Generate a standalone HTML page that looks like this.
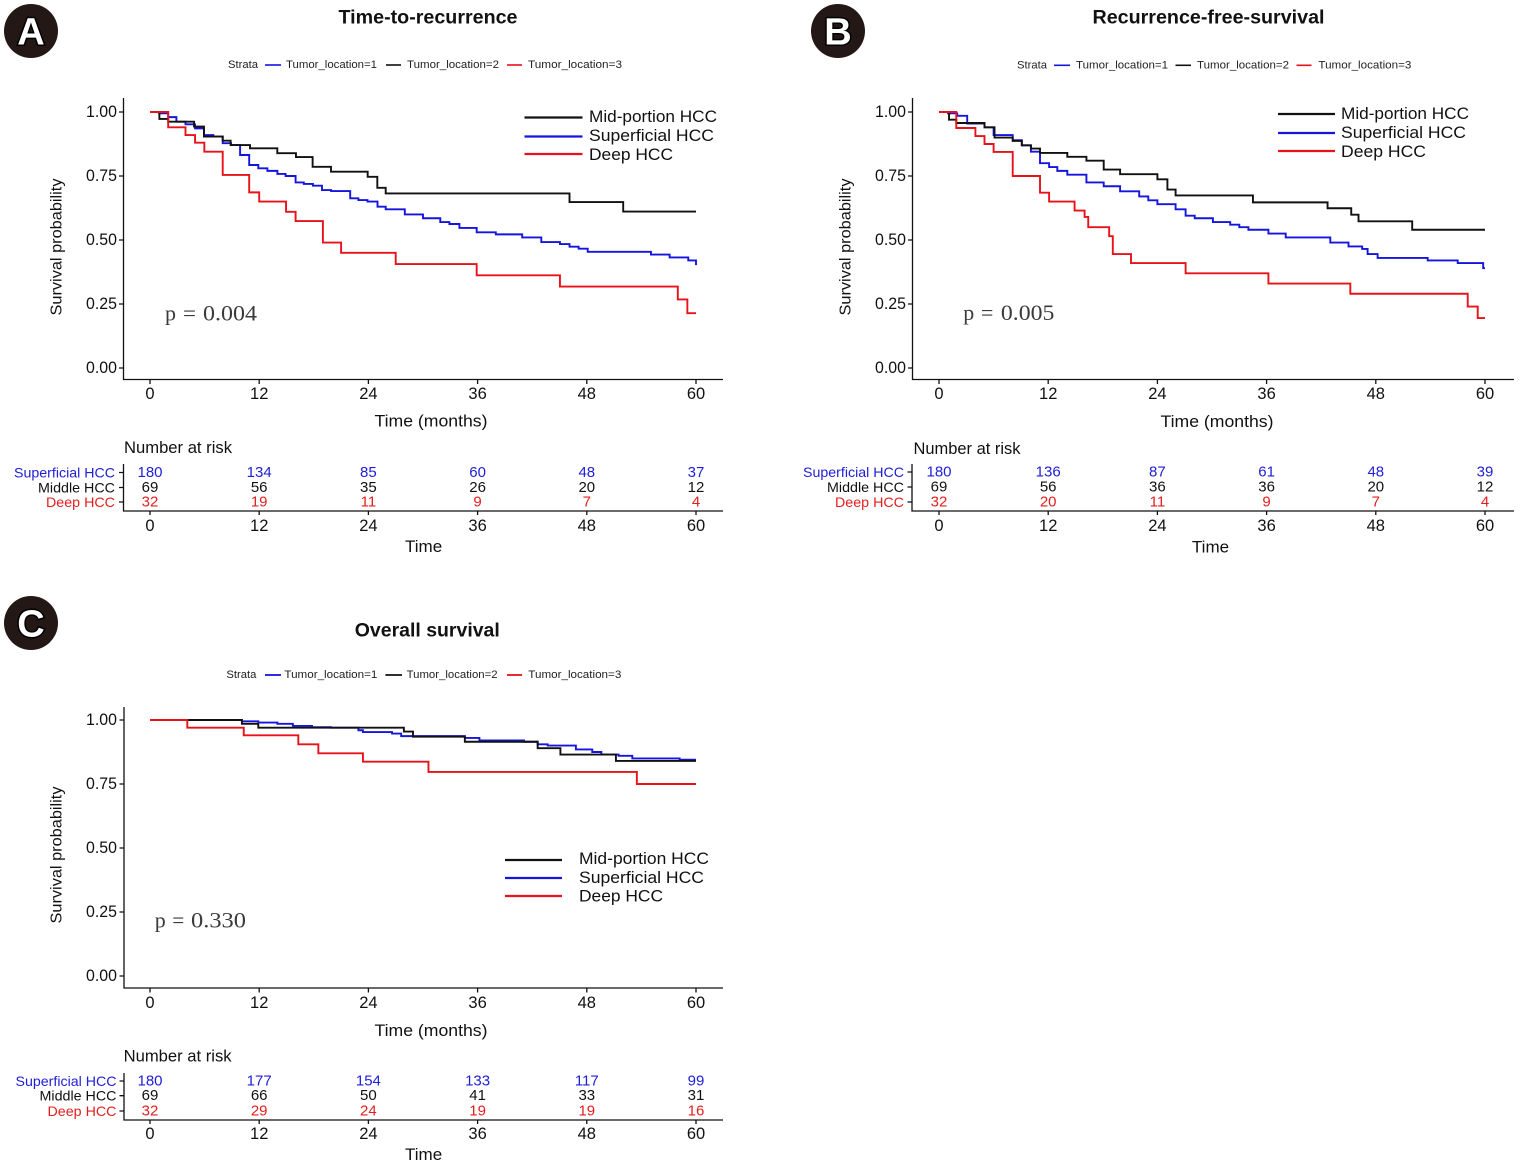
<!DOCTYPE html>
<html><head><meta charset="utf-8"><style>
html,body{margin:0;padding:0;background:#fff}
svg{display:block}
text{font-family:"Liberation Sans",Arial,sans-serif;dominant-baseline:central;fill:#111}
.m{text-anchor:middle}.e{text-anchor:end}
.st{font-size:11px;fill:#222}
.tk{font-size:16.5px}
.ttl{font-size:19px;font-weight:bold;text-anchor:middle}
.lg{font-size:17px}
.rk{font-size:15px;text-anchor:middle}
.rl{font-size:14px;text-anchor:end}
.pv{font-family:"Liberation Serif","DejaVu Serif",serif;font-size:22px;fill:#3a3a3a;dominant-baseline:auto}
.lab{font-family:"Liberation Sans",Arial,sans-serif;font-weight:bold;font-size:38px;fill:#fff;stroke:#000;stroke-width:3px;paint-order:stroke;text-anchor:middle}
.ax{stroke:#111;stroke-width:1.3;fill:none}
.cv{fill:none;stroke-width:1.9;vector-effect:non-scaling-stroke}
.bl{stroke:#1515e0}.bk{stroke:#111}.rd{stroke:#e8121a}
.tb{fill:#2020d8}.tr{fill:#e41e1e}
</style></head><body>
<svg width="1520" height="1164" viewBox="0 0 1520 1164" xmlns="http://www.w3.org/2000/svg">

<!-- ================= PANEL A ================= -->
<g>
<circle cx="31" cy="31" r="27" fill="#231815"/>
<text class="lab" x="31" y="32.5">A</text>
<text class="ttl" x="428" y="18" textLength="179" lengthAdjust="spacingAndGlyphs">Time-to-recurrence</text>
<text class="st" x="228" y="65" textLength="30" lengthAdjust="spacingAndGlyphs">Strata</text>
<line x1="265" x2="281" y1="65" y2="65" stroke="#1515e0" stroke-width="1.6"/>
<text class="st" x="286" y="65" textLength="91" lengthAdjust="spacingAndGlyphs">Tumor_location=1</text>
<line x1="386" x2="401" y1="65" y2="65" stroke="#111" stroke-width="1.6"/>
<text class="st" x="407" y="65" textLength="92" lengthAdjust="spacingAndGlyphs">Tumor_location=2</text>
<line x1="507" x2="522" y1="65" y2="65" stroke="#e8121a" stroke-width="1.6"/>
<text class="st" x="528" y="65" textLength="94" lengthAdjust="spacingAndGlyphs">Tumor_location=3</text>

<path class="ax" d="M123.5,98V379.5H723"/>
<path class="ax" d="M119,112H123.5M119,176H123.5M119,240H123.5M119,304H123.5M119,368H123.5"/>
<path class="ax" d="M150,379.5V384M259.2,379.5V384M368.4,379.5V384M477.6,379.5V384M586.8,379.5V384M696,379.5V384"/>
<text class="tk e" x="117" y="112" textLength="31" lengthAdjust="spacingAndGlyphs">1.00</text>
<text class="tk e" x="117" y="176" textLength="31" lengthAdjust="spacingAndGlyphs">0.75</text>
<text class="tk e" x="117" y="240" textLength="31" lengthAdjust="spacingAndGlyphs">0.50</text>
<text class="tk e" x="117" y="304" textLength="31" lengthAdjust="spacingAndGlyphs">0.25</text>
<text class="tk e" x="117" y="368" textLength="31" lengthAdjust="spacingAndGlyphs">0.00</text>
<text class="tk m" x="150" y="394">0</text>
<text class="tk m" x="259.2" y="394">12</text>
<text class="tk m" x="368.4" y="394">24</text>
<text class="tk m" x="477.6" y="394">36</text>
<text class="tk m" x="586.8" y="394">48</text>
<text class="tk m" x="696" y="394">60</text>
<text class="m" x="431" y="421" font-size="17" textLength="113" lengthAdjust="spacingAndGlyphs">Time (months)</text>
<text class="m" transform="translate(57,247) rotate(-90)" font-size="15.5" textLength="137" lengthAdjust="spacingAndGlyphs">Survival probability</text>

<g transform="translate(150,368) scale(9.1,-256)">
<path class="cv bl" d="M0,1H1V0.995H2V0.98H2.9V0.962H3.9V0.952H4.95V0.936H5.93V0.91H6.96V0.904H7.99V0.878H8.9V0.871H9.9V0.832H10.9V0.793H11.9V0.78H12.9V0.77H14V0.758H14.9V0.75H16V0.725H16.9V0.719H17.9V0.712H18.9V0.695H19.9V0.691H22V0.663H22.9V0.656H23.9V0.65H25V0.63H25.9V0.62H28V0.6H30V0.585H31.9V0.57H32.9V0.5625H34V0.547H35.9V0.53H38V0.522H40.9V0.51H43V0.492H45.05V0.484H46.1V0.474H47.1V0.466H48.1V0.454H55.05V0.443H57.1V0.432H59.15V0.42H60V0.402"/>
<path class="cv bk" d="M0,1H1.03V0.973H2V0.962H4.84V0.943H5.93V0.904H7.99V0.888H8.86V0.871H10.99V0.858H13.99V0.839H16.04V0.824H17.87V0.786H19.89V0.767H23.92V0.747H24.98V0.704H25.9V0.682H46.1V0.648H52V0.611H60"/>
<path class="cv rd" d="M0,1H2V0.94H3.9V0.91H4.95V0.88H5.97V0.845H7.99V0.754H10.9V0.686H12V0.65H14.95V0.61H16V0.574H19V0.49H21V0.45H27V0.406H35.9V0.362H45.05V0.318H58V0.268H59.05V0.214H60"/>
</g>

<line x1="524.5" x2="582.5" y1="117.5" y2="117.5" stroke="#111" stroke-width="2.2"/>
<line x1="524.5" x2="582.5" y1="136.5" y2="136.5" stroke="#1515e0" stroke-width="2.2"/>
<line x1="524.5" x2="582.5" y1="154" y2="154" stroke="#e8121a" stroke-width="2.2"/>
<text class="lg" x="589" y="116.5" textLength="128" lengthAdjust="spacingAndGlyphs">Mid-portion HCC</text>
<text class="lg" x="589" y="135.5" textLength="125" lengthAdjust="spacingAndGlyphs">Superficial HCC</text>
<text class="lg" x="589" y="154.3" textLength="84" lengthAdjust="spacingAndGlyphs">Deep HCC</text>

<text class="pv" x="165" y="320.5">p</text>
<text class="pv" x="183" y="320.5" textLength="13" lengthAdjust="spacingAndGlyphs">=</text>
<text class="pv" x="203" y="320.5" textLength="54" lengthAdjust="spacingAndGlyphs">0.004</text>

<!-- risk table -->
<text x="124" y="448" font-size="16.5" textLength="108" lengthAdjust="spacingAndGlyphs">Number at risk</text>
<path class="ax" d="M123.5,464V511H723"/>
<path class="ax" d="M119,472.5H123.5M119,487.5H123.5M119,502H123.5"/>
<path class="ax" d="M150,511V515M259.2,511V515M368.4,511V515M477.6,511V515M586.8,511V515M696,511V515"/>
<text class="rl tb" x="115" y="472.5" textLength="101" lengthAdjust="spacingAndGlyphs">Superficial HCC</text>
<text class="rl" x="115" y="487.5" textLength="77" lengthAdjust="spacingAndGlyphs">Middle HCC</text>
<text class="rl tr" x="115" y="502" textLength="69" lengthAdjust="spacingAndGlyphs">Deep HCC</text>
<g class="rk">
<text class="rk tb" x="150" y="472.5">180</text><text class="rk tb" x="259.2" y="472.5">134</text><text class="rk tb" x="368.4" y="472.5">85</text><text class="rk tb" x="477.6" y="472.5">60</text><text class="rk tb" x="586.8" y="472.5">48</text><text class="rk tb" x="696" y="472.5">37</text>
<text class="rk" x="150" y="487.5">69</text><text class="rk" x="259.2" y="487.5">56</text><text class="rk" x="368.4" y="487.5">35</text><text class="rk" x="477.6" y="487.5">26</text><text class="rk" x="586.8" y="487.5">20</text><text class="rk" x="696" y="487.5">12</text>
<text class="rk tr" x="150" y="502">32</text><text class="rk tr" x="259.2" y="502">19</text><text class="rk tr" x="368.4" y="502">11</text><text class="rk tr" x="477.6" y="502">9</text><text class="rk tr" x="586.8" y="502">7</text><text class="rk tr" x="696" y="502">4</text>
</g>
<text class="tk m" x="150" y="526">0</text>
<text class="tk m" x="259.2" y="526">12</text>
<text class="tk m" x="368.4" y="526">24</text>
<text class="tk m" x="477.6" y="526">36</text>
<text class="tk m" x="586.8" y="526">48</text>
<text class="tk m" x="696" y="526">60</text>
<text class="m" x="423.6" y="546.5" font-size="17">Time</text>
</g>

<!-- ================= PANEL B ================= -->
<g transform="translate(789,0)">
<circle cx="49" cy="31" r="27" fill="#231815"/>
<text class="lab" x="49" y="32.5">B</text>
<text class="ttl" x="419.5" y="18" textLength="232" lengthAdjust="spacingAndGlyphs">Recurrence-free-survival</text>
<text class="st" x="228" y="65.3" textLength="30" lengthAdjust="spacingAndGlyphs">Strata</text>
<line x1="265" x2="281" y1="65.3" y2="65.3" stroke="#1515e0" stroke-width="1.6"/>
<text class="st" x="287" y="65.3" textLength="92" lengthAdjust="spacingAndGlyphs">Tumor_location=1</text>
<line x1="386.5" x2="402" y1="65.3" y2="65.3" stroke="#111" stroke-width="1.6"/>
<text class="st" x="408" y="65.3" textLength="92" lengthAdjust="spacingAndGlyphs">Tumor_location=2</text>
<line x1="507.5" x2="522.5" y1="65.3" y2="65.3" stroke="#e8121a" stroke-width="1.6"/>
<text class="st" x="529.4" y="65.3" textLength="93" lengthAdjust="spacingAndGlyphs">Tumor_location=3</text>

<path class="ax" d="M123.5,98V379.5H725"/>
<path class="ax" d="M119,112H123.5M119,176H123.5M119,240H123.5M119,304H123.5M119,368H123.5"/>
<path class="ax" d="M150,379.5V384M259.2,379.5V384M368.4,379.5V384M477.6,379.5V384M586.8,379.5V384M696,379.5V384"/>
<text class="tk e" x="117" y="112" textLength="31" lengthAdjust="spacingAndGlyphs">1.00</text>
<text class="tk e" x="117" y="176" textLength="31" lengthAdjust="spacingAndGlyphs">0.75</text>
<text class="tk e" x="117" y="240" textLength="31" lengthAdjust="spacingAndGlyphs">0.50</text>
<text class="tk e" x="117" y="304" textLength="31" lengthAdjust="spacingAndGlyphs">0.25</text>
<text class="tk e" x="117" y="368" textLength="31" lengthAdjust="spacingAndGlyphs">0.00</text>
<text class="tk m" x="150" y="394">0</text>
<text class="tk m" x="259.2" y="394">12</text>
<text class="tk m" x="368.4" y="394">24</text>
<text class="tk m" x="477.6" y="394">36</text>
<text class="tk m" x="586.8" y="394">48</text>
<text class="tk m" x="696" y="394">60</text>
<text class="m" x="428" y="421.5" font-size="17" textLength="113" lengthAdjust="spacingAndGlyphs">Time (months)</text>
<text class="m" transform="translate(57,247) rotate(-90)" font-size="15.5" textLength="137" lengthAdjust="spacingAndGlyphs">Survival probability</text>

<g transform="translate(150,368) scale(9.1,-256)">
<path class="cv bl" d="M0,1H1V0.995H2V0.985H3.1V0.955H5V0.94H6V0.91H8.1V0.89H9.1V0.87H10.1V0.845H11.1V0.8H12.1V0.785H13V0.77H14.1V0.755H16.2V0.725H18.1V0.71H19.9V0.69H22V0.67H23V0.655H24V0.64H26V0.62H27.1V0.595H28.1V0.585H30.1V0.57H32V0.56H33V0.55H34V0.54H36.2V0.525H38.1V0.51H43V0.49H45V0.475H46.5V0.465H47.1V0.445H48.2V0.43H53.7V0.42H57V0.41H59.8V0.39H60"/>
<path class="cv bk" d="M0,1H1.1V0.97H1.9V0.957H5V0.94H6.1V0.9H8.1V0.887H9.1V0.87H10.1V0.857H11.1V0.84H14.1V0.825H16.2V0.81H18.1V0.775H19.9V0.757H24V0.737H25.1V0.697H26V0.674H34.5V0.647H42.7V0.624H45.3V0.599H46.1V0.573H52V0.54H60"/>
<path class="cv rd" d="M0,1H1.9V0.9375H4V0.906H5V0.875H6V0.844H8.1V0.75H11.1V0.685H12.1V0.65H14.9V0.615H16V0.59H16.4V0.55H18.7V0.515H19.1V0.445H21.1V0.41H27.1V0.37H36.2V0.33H45.2V0.29H58.1V0.24H59.2V0.195H60"/>
</g>

<line x1="489" x2="546" y1="114" y2="114" stroke="#111" stroke-width="2.2"/>
<line x1="489" x2="546" y1="133" y2="133" stroke="#1515e0" stroke-width="2.2"/>
<line x1="489" x2="546" y1="151" y2="151" stroke="#e8121a" stroke-width="2.2"/>
<text class="lg" x="552" y="113.3" textLength="128" lengthAdjust="spacingAndGlyphs">Mid-portion HCC</text>
<text class="lg" x="552" y="132.5" textLength="125" lengthAdjust="spacingAndGlyphs">Superficial HCC</text>
<text class="lg" x="552" y="151.5" textLength="85" lengthAdjust="spacingAndGlyphs">Deep HCC</text>

<text class="pv" x="174.2" y="320">p</text>
<text class="pv" x="191.9" y="320" textLength="12.5" lengthAdjust="spacingAndGlyphs">=</text>
<text class="pv" x="211.9" y="320" textLength="53.5" lengthAdjust="spacingAndGlyphs">0.005</text>

<text x="124.5" y="449" font-size="16.5" textLength="107" lengthAdjust="spacingAndGlyphs">Number at risk</text>
<path class="ax" d="M123,464V511H725"/>
<path class="ax" d="M118.5,472H123M118.5,487H123M118.5,502H123"/>
<path class="ax" d="M150,511V515M259.2,511V515M368.4,511V515M477.6,511V515M586.8,511V515M696,511V515"/>
<text class="rl tb" x="115" y="472" textLength="101" lengthAdjust="spacingAndGlyphs">Superficial HCC</text>
<text class="rl" x="115" y="487" textLength="77" lengthAdjust="spacingAndGlyphs">Middle HCC</text>
<text class="rl tr" x="115" y="502" textLength="69" lengthAdjust="spacingAndGlyphs">Deep HCC</text>
<text class="rk tb" x="150" y="472">180</text><text class="rk tb" x="259.2" y="472">136</text><text class="rk tb" x="368.4" y="472">87</text><text class="rk tb" x="477.6" y="472">61</text><text class="rk tb" x="586.8" y="472">48</text><text class="rk tb" x="696" y="472">39</text>
<text class="rk" x="150" y="487">69</text><text class="rk" x="259.2" y="487">56</text><text class="rk" x="368.4" y="487">36</text><text class="rk" x="477.6" y="487">36</text><text class="rk" x="586.8" y="487">20</text><text class="rk" x="696" y="487">12</text>
<text class="rk tr" x="150" y="502">32</text><text class="rk tr" x="259.2" y="502">20</text><text class="rk tr" x="368.4" y="502">11</text><text class="rk tr" x="477.6" y="502">9</text><text class="rk tr" x="586.8" y="502">7</text><text class="rk tr" x="696" y="502">4</text>
<text class="tk m" x="150" y="526">0</text>
<text class="tk m" x="259.2" y="526">12</text>
<text class="tk m" x="368.4" y="526">24</text>
<text class="tk m" x="477.6" y="526">36</text>
<text class="tk m" x="586.8" y="526">48</text>
<text class="tk m" x="696" y="526">60</text>
<text class="m" x="421.5" y="547" font-size="17">Time</text>
</g>

<!-- ================= PANEL C ================= -->
<g transform="translate(0,608)">
<circle cx="31" cy="15" r="27" fill="#231815"/>
<text class="lab" x="31" y="16.5">C</text>
<text class="ttl" x="427.3" y="23" textLength="145" lengthAdjust="spacingAndGlyphs">Overall survival</text>
<text class="st" x="226.4" y="67" textLength="30" lengthAdjust="spacingAndGlyphs">Strata</text>
<line x1="265" x2="281" y1="67" y2="67" stroke="#1515e0" stroke-width="1.8"/>
<text class="st" x="284.4" y="67" textLength="93" lengthAdjust="spacingAndGlyphs">Tumor_location=1</text>
<line x1="385.4" x2="402" y1="67" y2="67" stroke="#111" stroke-width="1.8"/>
<text class="st" x="406.6" y="67" textLength="91" lengthAdjust="spacingAndGlyphs">Tumor_location=2</text>
<line x1="507" x2="522" y1="67" y2="67" stroke="#e8121a" stroke-width="1.8"/>
<text class="st" x="528.3" y="67" textLength="93" lengthAdjust="spacingAndGlyphs">Tumor_location=3</text>

<path class="ax" d="M124,99V380H723"/>
<path class="ax" d="M119.5,112H124M119.5,176H124M119.5,240H124M119.5,304H124M119.5,368H124"/>
<path class="ax" d="M150,380V384.5M259.2,380V384.5M368.4,380V384.5M477.6,380V384.5M586.8,380V384.5M696,380V384.5"/>
<text class="tk e" x="117" y="112" textLength="31" lengthAdjust="spacingAndGlyphs">1.00</text>
<text class="tk e" x="117" y="176" textLength="31" lengthAdjust="spacingAndGlyphs">0.75</text>
<text class="tk e" x="117" y="240" textLength="31" lengthAdjust="spacingAndGlyphs">0.50</text>
<text class="tk e" x="117" y="304" textLength="31" lengthAdjust="spacingAndGlyphs">0.25</text>
<text class="tk e" x="117" y="368" textLength="31" lengthAdjust="spacingAndGlyphs">0.00</text>
<text class="tk m" x="150" y="395">0</text>
<text class="tk m" x="259.2" y="395">12</text>
<text class="tk m" x="368.4" y="395">24</text>
<text class="tk m" x="477.6" y="395">36</text>
<text class="tk m" x="586.8" y="395">48</text>
<text class="tk m" x="696" y="395">60</text>
<text class="m" x="431" y="422.5" font-size="17" textLength="113" lengthAdjust="spacingAndGlyphs">Time (months)</text>
<text class="m" transform="translate(57,247) rotate(-90)" font-size="15.5" textLength="137" lengthAdjust="spacingAndGlyphs">Survival probability</text>

<g transform="translate(150,368) scale(9.1,-256)">
<path class="cv bl" d="M0,1H10.1V0.995H11.9V0.99H14V0.985H15.7V0.977H17.8V0.972H19.9V0.97H22.9V0.96H23.4V0.953H26.6V0.947H27.6V0.937H34.6V0.93H36.2V0.92H41.1V0.915H42.6V0.905H43.7V0.9H46.8V0.885H48.6V0.875H49.6V0.865H51.5V0.86H53V0.85H58.2V0.845H60"/>
<path class="cv bk" d="M0,1H10.1V0.985H11.9V0.97H27.9V0.955H28.9V0.935H34.6V0.915H42.6V0.89H45.1V0.865H51.2V0.84H60"/>
<path class="cv rd" d="M0,1H4.1V0.97H10.3V0.94H16.3V0.905H18.5V0.87H23.4V0.837H30.6V0.797H53.5V0.75H60"/>
</g>

<line x1="505" x2="562" y1="252" y2="252" stroke="#111" stroke-width="2.2"/>
<line x1="505" x2="562" y1="270" y2="270" stroke="#1515e0" stroke-width="2.2"/>
<line x1="505" x2="562" y1="288" y2="288" stroke="#e8121a" stroke-width="2.2"/>
<text class="lg" x="579" y="250.3" textLength="130" lengthAdjust="spacingAndGlyphs">Mid-portion HCC</text>
<text class="lg" x="579" y="269.3" textLength="125" lengthAdjust="spacingAndGlyphs">Superficial HCC</text>
<text class="lg" x="579" y="288" textLength="84" lengthAdjust="spacingAndGlyphs">Deep HCC</text>

<text class="pv" x="154.7" y="319.3">p</text>
<text class="pv" x="172.2" y="319.3" textLength="12" lengthAdjust="spacingAndGlyphs">=</text>
<text class="pv" x="191" y="319.3" textLength="55" lengthAdjust="spacingAndGlyphs">0.330</text>

<text x="123.6" y="448.5" font-size="16.5" textLength="108" lengthAdjust="spacingAndGlyphs">Number at risk</text>
<path class="ax" d="M124,465V512H723"/>
<path class="ax" d="M119.5,473H124M119.5,487.7H124M119.5,503H124"/>
<path class="ax" d="M150,512V516M259.2,512V516M368.4,512V516M477.6,512V516M586.8,512V516M696,512V516"/>
<text class="rl tb" x="116.5" y="473" textLength="101" lengthAdjust="spacingAndGlyphs">Superficial HCC</text>
<text class="rl" x="116.5" y="487.7" textLength="77" lengthAdjust="spacingAndGlyphs">Middle HCC</text>
<text class="rl tr" x="116.5" y="503" textLength="69" lengthAdjust="spacingAndGlyphs">Deep HCC</text>
<text class="rk tb" x="150" y="473">180</text><text class="rk tb" x="259.2" y="473">177</text><text class="rk tb" x="368.4" y="473">154</text><text class="rk tb" x="477.6" y="473">133</text><text class="rk tb" x="586.8" y="473">117</text><text class="rk tb" x="696" y="473">99</text>
<text class="rk" x="150" y="487.7">69</text><text class="rk" x="259.2" y="487.7">66</text><text class="rk" x="368.4" y="487.7">50</text><text class="rk" x="477.6" y="487.7">41</text><text class="rk" x="586.8" y="487.7">33</text><text class="rk" x="696" y="487.7">31</text>
<text class="rk tr" x="150" y="503">32</text><text class="rk tr" x="259.2" y="503">29</text><text class="rk tr" x="368.4" y="503">24</text><text class="rk tr" x="477.6" y="503">19</text><text class="rk tr" x="586.8" y="503">19</text><text class="rk tr" x="696" y="503">16</text>
<text class="tk m" x="150" y="526">0</text>
<text class="tk m" x="259.2" y="526">12</text>
<text class="tk m" x="368.4" y="526">24</text>
<text class="tk m" x="477.6" y="526">36</text>
<text class="tk m" x="586.8" y="526">48</text>
<text class="tk m" x="696" y="526">60</text>
<text class="m" x="423.6" y="546.3" font-size="17">Time</text>
</g>
</svg>
</body></html>
